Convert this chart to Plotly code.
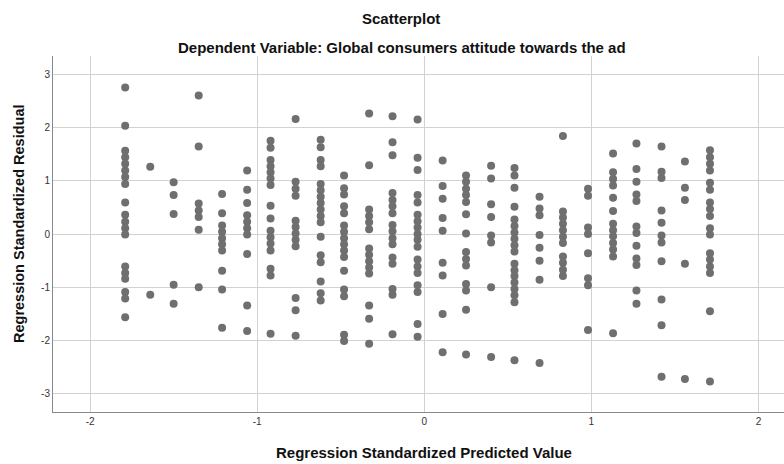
import plotly.graph_objects as go

# Standardized predicted values (the predictor takes discrete levels)
pred_levels = [-1.79, -1.64, -1.50, -1.35, -1.21, -1.06, -0.92, -0.77, -0.62, -0.48,
               -0.33, -0.19, -0.04, 0.11, 0.25, 0.40, 0.54, 0.69, 0.83, 0.98,
               1.13, 1.27, 1.42, 1.56, 1.71]

# Standardized residuals observed at each predicted level
resid_groups = [
    [2.75, 2.03, 1.56, 1.44, 1.32, 1.19, 1.07, 0.94, 0.59, 0.36, 0.23, 0.11, -0.01,
     -0.61, -0.73, -0.84, -1.09, -1.21, -1.56],
    [1.26, -1.14],
    [0.97, 0.73, 0.375, -0.95, -1.31],
    [2.60, 1.64, 0.57, 0.44, 0.32, 0.08, -1.00],
    [0.75, 0.39, 0.16, 0.04, -0.08, -0.19, -0.31, -0.69, -1.04, -1.76],
    [1.19, 0.83, 0.58, 0.35, 0.23, 0.11, -0.01, -0.375, -1.34, -1.82],
    [1.75, 1.62, 1.39, 1.27, 1.16, 1.04, 0.92, 0.53, 0.29, 0.06, -0.06, -0.18, -0.31,
     -0.65, -0.78, -1.87],
    [2.16, 0.98, 0.85, 0.72, 0.25, 0.13, 0.01, -0.11, -0.23, -1.20, -1.43, -1.91],
    [1.77, 1.63, 1.39, 1.27, 0.94, 0.82, 0.70, 0.58, 0.46, 0.34, 0.22, -0.05, -0.40,
     -0.53, -0.89, -1.11, -1.25],
    [1.10, 0.86, 0.74, 0.52, 0.39, 0.16, 0.04, -0.08, -0.19, -0.31, -0.43, -0.69,
     -1.04, -1.17, -1.89, -2.01],
    [2.26, 1.29, 0.46, 0.34, 0.22, 0.09, -0.27, -0.39, -0.51, -0.63, -0.74, -1.34,
     -1.59, -2.06],
    [2.21, 1.72, 1.48, 0.77, 0.64, 0.52, 0.39, 0.17, 0.05, -0.08, -0.19, -0.44, -0.56,
     -1.03, -1.14, -1.88],
    [2.15, 1.43, 1.20, 0.73, 0.59, 0.36, 0.24, 0.12, 0.00, -0.11, -0.24, -0.48, -0.61,
     -0.73, -0.96, -1.09, -1.69, -1.93],
    [1.38, 0.90, 0.66, 0.30, 0.06, -0.54, -0.78, -1.50, -2.22],
    [1.10, 0.98, 0.85, 0.73, 0.60, 0.37, 0.01, -0.34, -0.47, -0.59, -0.94, -1.06,
     -1.42, -2.26],
    [1.28, 1.04, 0.56, 0.32, -0.03, -0.16, -1.00, -2.31],
    [1.24, 1.10, 0.87, 0.51, 0.27, 0.15, 0.03, -0.09, -0.21, -0.33, -0.56, -0.68,
     -0.79, -0.91, -1.03, -1.15, -1.28, -2.37],
    [0.70, 0.48, 0.35, -0.02, -0.26, -0.50, -0.86, -2.42],
    [1.84, 0.42, 0.31, 0.19, 0.07, -0.05, -0.17, -0.42, -0.54, -0.67, -0.79],
    [0.85, 0.72, 0.12, 0.00, -0.36, -0.83, -0.96, -1.80],
    [1.51, 1.16, 1.03, 0.91, 0.68, 0.43, 0.19, 0.07, -0.04, -0.17, -0.29, -0.42, -1.86],
    [1.70, 1.22, 0.98, 0.74, 0.62, 0.14, 0.02, -0.22, -0.46, -0.58, -1.06, -1.31],
    [1.64, 1.17, 1.05, 0.44, 0.21, -0.03, -0.16, -0.51, -1.23, -1.71, -2.68],
    [1.36, 0.87, 0.64, -0.56, -2.72],
    [1.57, 1.44, 1.32, 1.19, 0.96, 0.83, 0.59, 0.47, 0.34, 0.11, -0.01, -0.36, -0.48,
     -0.61, -0.73, -1.45, -2.77],
]

tick_vals_x = [-2, -1, 0, 1, 2]
tick_vals_y = [-3, -2, -1, 0, 1, 2, 3]

chart_title = "Scatterplot"
chart_subtitle = "Dependent Variable: Global consumers attitude towards the ad"
x_title = "Regression Standardized Predicted Value"
y_title = "Regression Standardized Residual"

predicted = []
residual = []
for level, group in zip(pred_levels, resid_groups):
    for r in group:
        predicted.append(level)
        residual.append(r)

FONT = "Liberation Sans, Arial, sans-serif"
GRID = "#d2d2d2"
AXIS = "#8a8a8a"

fig = go.Figure(
    go.Scatter(
        x=predicted,
        y=residual,
        mode="markers",
        marker=dict(size=8, color="#6f6f6f", line=dict(width=0)),
        hoverinfo="x+y",
    )
)

# plot area spans 53..784 px horizontally, 56..412 px vertically
L, T, B = 53, 56, 52
W, H = 784, 464
plot_w = W - L
plot_h = H - T - B


def px_to_paper_y(py):
    return (H - B - py) / plot_h


def px_to_paper_x(px):
    return (px - L) / plot_w


fig.update_layout(
    width=W,
    height=H,
    margin=dict(l=L, r=0, t=T, b=B),
    paper_bgcolor="white",
    plot_bgcolor="white",
    showlegend=False,
    font=dict(family=FONT, color="#222222"),
    xaxis=dict(
        range=[-2.222, 2.153],
        tickvals=tick_vals_x,
        ticktext=[str(v) for v in tick_vals_x],
        showgrid=True,
        gridcolor=GRID,
        gridwidth=1,
        zeroline=False,
        showline=True,
        linecolor=AXIS,
        linewidth=1,
        ticks="",
        tickfont=dict(size=10, color="#333333", family=FONT),
        fixedrange=True,
    ),
    yaxis=dict(
        range=[-3.34, 3.34],
        tickvals=tick_vals_y,
        ticktext=[str(v) for v in tick_vals_y],
        showgrid=True,
        gridcolor=GRID,
        gridwidth=1,
        zeroline=False,
        showline=True,
        linecolor=AXIS,
        linewidth=1,
        ticks="",
        tickfont=dict(size=10, color="#333333", family=FONT),
        fixedrange=True,
    ),
    annotations=[
        dict(text="<b>" + chart_title + "</b>", xref="paper", yref="paper",
             x=px_to_paper_x(401), y=px_to_paper_y(18), xanchor="center",
             yanchor="middle", showarrow=False,
             font=dict(size=15, family=FONT, color="#111111")),
        dict(text="<b>" + chart_subtitle + "</b>", xref="paper", yref="paper",
             x=px_to_paper_x(402), y=px_to_paper_y(47), xanchor="center",
             yanchor="middle", showarrow=False,
             font=dict(size=15, family=FONT, color="#111111")),
        dict(text="<b>" + x_title + "</b>", xref="x", yref="paper",
             x=0, y=px_to_paper_y(452), xanchor="center", yanchor="middle",
             showarrow=False, font=dict(size=15, family=FONT, color="#111111")),
        dict(text="<b>" + y_title + "</b>", xref="paper", yref="paper",
             x=px_to_paper_x(19), y=px_to_paper_y(224), xanchor="center",
             yanchor="middle", textangle=-90, showarrow=False,
             font=dict(size=14.5, family=FONT, color="#111111")),
    ],
)

fig.write_html("out.html")
